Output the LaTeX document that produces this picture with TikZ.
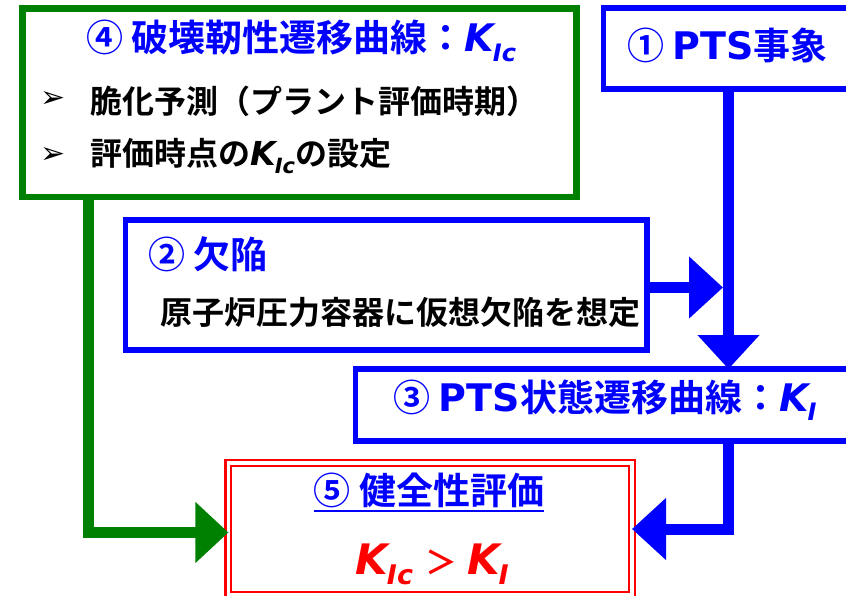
\documentclass[tikz,border=0pt]{standalone}
\usepackage{fontspec}
\usetikzlibrary{arrows.meta}
\newfontfamily\jp{Noto Sans CJK JP}[BoldFont={Noto Sans CJK JP Bold}]
\newfontfamily\lat{DejaVu Sans}
\definecolor{gr}{RGB}{0,128,0}
% #1 subscript, #2 K size, #3 subscript size, #4 drop
\newcommand{\Kx}[4]{{\lat\bfseries\itshape\fontsize{#2}{#2}\selectfont K\kern-1pt\raisebox{-#4}{\fontsize{#3}{#3}\selectfont #1}}}
\newcommand{\Lt}[1]{{\lat\bfseries\fontsize{38}{38}\selectfont #1}}
\tikzset{
  box/.style={draw, inner sep=0pt, outer sep=0pt, line join=miter},
  txt/.style={inner sep=0pt, font=\jp\bfseries\fontsize{32}{32}\selectfont},
  ttl/.style={inner sep=0pt, text=blue, font=\jp\bfseries\fontsize{37}{37}\selectfont},
  bull/.style={inner sep=0pt, font=\lat\fontsize{30}{30}\selectfont},
  garrow/.style={draw=gr, line width=11pt, line join=miter, -{Triangle[length=33pt,width=59pt]}},
  barrow/.style={draw=blue, line width=11pt, line join=miter, -{Triangle[length=34pt,width=60pt]}}
}
\begin{document}
\begin{tikzpicture}[x=1pt,y=1pt]
\useasboundingbox (0,0) rectangle (846,-596);
\fill[white] (0,0) rectangle (846,-596);
\clip (0,0) rectangle (846,-596);
% boxes
\node[box, draw=gr, line width=6.5pt, minimum width=554pt, minimum height=188.5pt] (b4) at (299.5,-102.75) {};
\node[box, draw=blue, line width=5.5pt, minimum width=266.5pt, minimum height=81pt] (b1) at (736.75,-48.5) {};
\node[box, draw=blue, line width=5.5pt, minimum width=521.5pt, minimum height=130pt] (b2) at (386.25,-285) {};
\node[box, draw=blue, line width=5.5pt, minimum width=514.5pt, minimum height=72pt] (b3) at (612.75,-405) {};
\node[box, draw=red, double=white, double distance=3.3pt, line width=2.3pt, minimum width=403.6pt, minimum height=132pt] (b5) at (430.2,-529) {};
% texts
\node[ttl, anchor=base] (t4) at (301,-52) {④ 破壊靭性遷移曲線：\Kx{Ic}{38}{24}{9.5pt}};
\node[bull] (bl1) at (53,-100) {➢};
\node[txt, anchor=base west] (l1) at (90,-114) {脆化予測（プラント評価時期）};
\node[bull] (bl2) at (53,-156) {➢};
\node[txt, anchor=base west] (l2) at (90,-166) {評価時点の\Kx{Ic}{33}{21}{8pt}の設定};
\node[ttl, anchor=base] (t1) at (727.5,-60) {① \Lt{PTS}事象};
\node[ttl, anchor=base west] (t2a) at (148,-269) {② 欠陥};
\node[txt, anchor=base] (t2b) at (400,-324) {原子炉圧力容器に仮想欠陥を想定};
\node[ttl, anchor=base] (t3) at (605,-411) {③ \Lt{PTS}状態遷移曲線：\Kx{I}{38}{24}{9.5pt}};
\node[ttl, anchor=base] (t5a) at (429,-504) {⑤ 健全性評価};
\draw[blue, line width=2pt] ([yshift=-7pt]t5a.base west) -- ([yshift=-7pt]t5a.base east);
\node[txt, red, anchor=base] (t5b) at (432,-574) {\Kx{Ic}{42}{27}{10pt}\hspace{12pt}＞\hspace{10pt}\Kx{I}{42}{27}{10pt}};
% connectors
\coordinate (gx) at (88,0);
\coordinate (bx) at (728.5,0);
\coordinate (j2) at (723,-287.5);
\draw[garrow] (b4.south -| gx) |- ([yshift=-3.5pt]b5.west);
\draw[barrow] (b1.south -| bx) -- (b3.north -| bx);
\draw[barrow] (b2.east |- j2) -- (j2);
\draw[barrow] (b3.south -| bx) |- (b5.east);
\end{tikzpicture}
\end{document}
